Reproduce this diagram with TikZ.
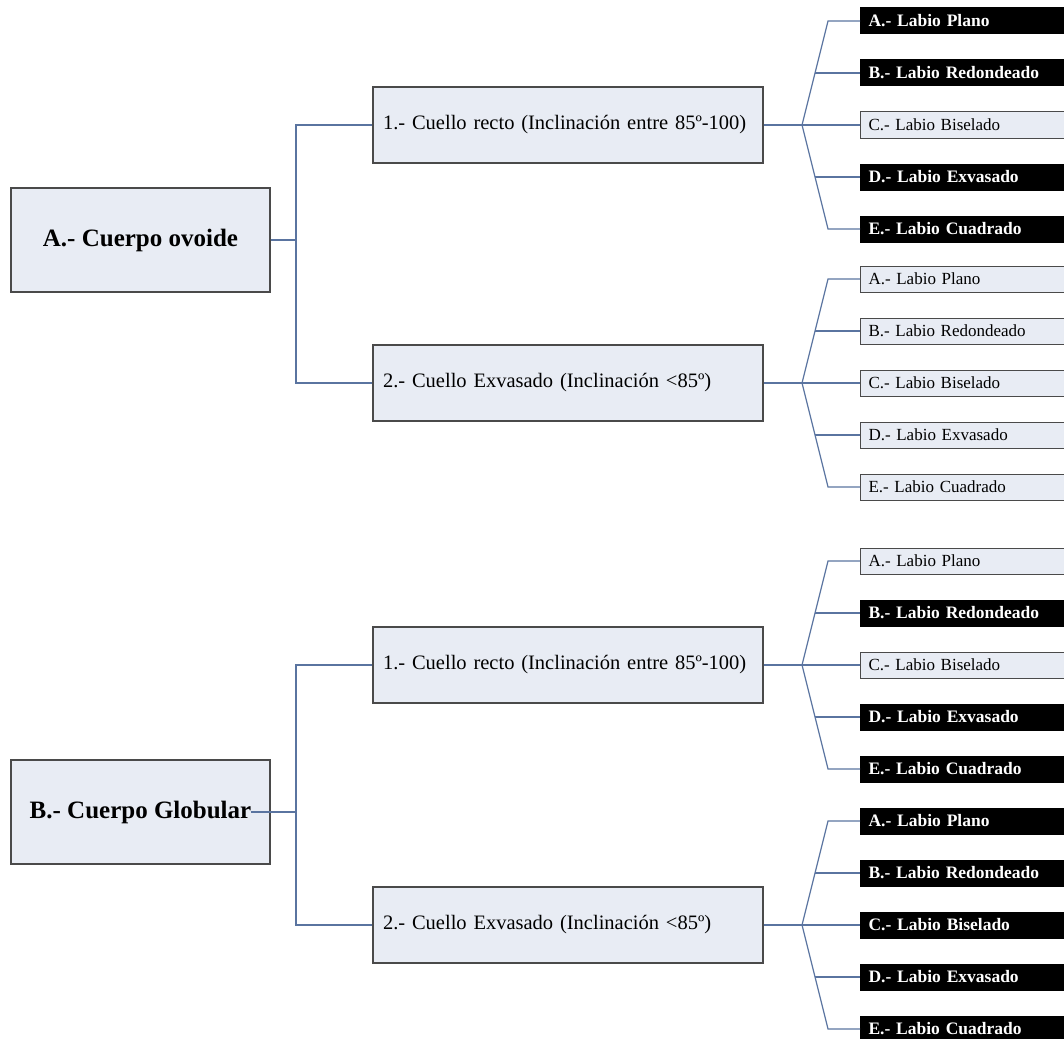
\documentclass[tikz,border=0pt]{standalone}
\usepackage{fontspec}
\setmainfont{Liberation Serif}
\usetikzlibrary{calc}
\definecolor{boxfill}{HTML}{E8ECF4}
\definecolor{boxline}{HTML}{4A4A4A}
\definecolor{linkcol}{HTML}{5A74A0}
\begin{document}
\begin{tikzpicture}[x=1pt,y=-1pt,
  root/.style={draw=boxline,fill=boxfill,line width=1.2pt,minimum width=259pt,minimum height=104pt,font=\fontsize{25}{30}\selectfont\bfseries},
  neck/.style={draw=boxline,fill=boxfill,line width=1.2pt,minimum height=76pt,text width=370pt,inner xsep=10pt,align=left,font=\fontsize{20.5}{24}\selectfont},
  lip/.style={draw=boxline,fill=boxfill,line width=1pt,anchor=west,minimum height=26pt,text width=194pt,inner xsep=8pt,inner ysep=0pt,align=left,font=\fontsize{17}{19}\selectfont},
  lipdark/.style={lip,fill=black,draw=black,text=white,font=\fontsize{17.5}{19}\selectfont\bfseries},
  link/.style={draw=linkcol,line width=1.2pt}]
\useasboundingbox (0,0) rectangle (1064,1038);
\clip (0,0) rectangle (1064,1038);

% body shapes
\node[root] (rA) at (140.5,240) {A.- Cuerpo ovoide};
\node[root] (rB) at (140.5,812) {B.- Cuerpo Globular};

% necks
\node[neck] (n1) at (568,125) {1.- Cuello recto (Inclinación entre 85º-100)};
\node[neck] (n2) at (568,383) {2.- Cuello Exvasado (Inclinación <85º)};
\node[neck] (n3) at (568,665) {1.- Cuello recto (Inclinación entre 85º-100)};
\node[neck] (n4) at (568,925) {2.- Cuello Exvasado (Inclinación <85º)};

\coordinate (sA) at (296,240);
\coordinate (sB) at (296,812);
\draw[link] (rA.east) -- (sA);
\draw[link] (n1.west) -| (sA);
\draw[link] (n2.west) -| (sA);
\draw[link] ([xshift=-20pt]rB.east) -- (sB);
\draw[link] (n3.west) -| (sB);
\draw[link] (n4.west) -| (sB);

% lips, group 1
\node[lipdark] (l1a) at (860,21) {A.- Labio Plano};
\node[lipdark] (l1b) at (860,73) {B.- Labio Redondeado};
\node[lip] (l1c) at (860,125) {C.- Labio Biselado};
\node[lipdark] (l1d) at (860,177) {D.- Labio Exvasado};
\node[lipdark] (l1e) at (860,229) {E.- Labio Cuadrado};

% lips, group 2
\node[lip] (l2a) at (860,279) {A.- Labio Plano};
\node[lip] (l2b) at (860,331) {B.- Labio Redondeado};
\node[lip] (l2c) at (860,383) {C.- Labio Biselado};
\node[lip] (l2d) at (860,435) {D.- Labio Exvasado};
\node[lip] (l2e) at (860,487) {E.- Labio Cuadrado};

% lips, group 3
\node[lip] (l3a) at (860,561) {A.- Labio Plano};
\node[lipdark] (l3b) at (860,613) {B.- Labio Redondeado};
\node[lip] (l3c) at (860,665) {C.- Labio Biselado};
\node[lipdark] (l3d) at (860,717) {D.- Labio Exvasado};
\node[lipdark] (l3e) at (860,769) {E.- Labio Cuadrado};

% lips, group 4
\node[lipdark] (l4a) at (860,821) {A.- Labio Plano};
\node[lipdark] (l4b) at (860,873) {B.- Labio Redondeado};
\node[lipdark] (l4c) at (860,925) {C.- Labio Biselado};
\node[lipdark] (l4d) at (860,977) {D.- Labio Exvasado};
\node[lipdark] (l4e) at (860,1029) {E.- Labio Cuadrado};

% forks
\coordinate (f1) at (802,125);
\coordinate (t1) at (828,21);
\coordinate (b1) at (828,229);
\draw[link] (n1.east) -- (f1) -- (l1c.west);
\draw[link] (l1a.west) -- (t1) -- (f1) -- (b1) -- (l1e.west);
\draw[link] ($(t1)!.5!(f1)$) -- (l1b.west);
\draw[link] ($(b1)!.5!(f1)$) -- (l1d.west);

\coordinate (f2) at (802,383);
\coordinate (t2) at (828,279);
\coordinate (b2) at (828,487);
\draw[link] (n2.east) -- (f2) -- (l2c.west);
\draw[link] (l2a.west) -- (t2) -- (f2) -- (b2) -- (l2e.west);
\draw[link] ($(t2)!.5!(f2)$) -- (l2b.west);
\draw[link] ($(b2)!.5!(f2)$) -- (l2d.west);

\coordinate (f3) at (802,665);
\coordinate (t3) at (828,561);
\coordinate (b3) at (828,769);
\draw[link] (n3.east) -- (f3) -- (l3c.west);
\draw[link] (l3a.west) -- (t3) -- (f3) -- (b3) -- (l3e.west);
\draw[link] ($(t3)!.5!(f3)$) -- (l3b.west);
\draw[link] ($(b3)!.5!(f3)$) -- (l3d.west);

\coordinate (f4) at (802,925);
\coordinate (t4) at (828,821);
\coordinate (b4) at (828,1029);
\draw[link] (n4.east) -- (f4) -- (l4c.west);
\draw[link] (l4a.west) -- (t4) -- (f4) -- (b4) -- (l4e.west);
\draw[link] ($(t4)!.5!(f4)$) -- (l4b.west);
\draw[link] ($(b4)!.5!(f4)$) -- (l4d.west);
\end{tikzpicture}
\end{document}
